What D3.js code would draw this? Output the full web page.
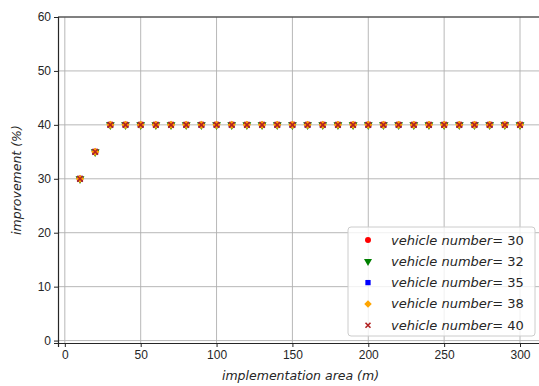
<!DOCTYPE html>
<html lang="en">
<head>
<meta charset="UTF-8">
<title>Improvement vs implementation area</title>
<script src="https://d3js.org/d3.v7.min.js"></script>
<style>
  body { margin: 0; background: #fff; }
  svg { font-family: "DejaVu Sans", sans-serif; }
  .tick text { font-size: 12px; fill: #262626; }
  .axis-label { font-size: 12.5px; font-style: italic; fill: #262626; }
  .legend-text { font-size: 13px; fill: #262626; }
</style>
</head>
<body>
<div id="chart"></div>
<script>
// data
const areas = [10, 20, 30, 40, 50, 60, 70, 80, 90, 100, 110, 120, 130, 140, 150,
               160, 170, 180, 190, 200, 210, 220, 230, 240, 250, 260, 270, 280, 290, 300];
const vehicleNumbers = [30, 32, 35, 38, 40];
const improvement30 = [30, 35, 40, 40, 40, 40, 40, 40, 40, 40, 40, 40, 40, 40, 40, 40, 40, 40, 40, 40, 40, 40, 40, 40, 40, 40, 40, 40, 40, 40];
const improvement32 = [30, 35, 40, 40, 40, 40, 40, 40, 40, 40, 40, 40, 40, 40, 40, 40, 40, 40, 40, 40, 40, 40, 40, 40, 40, 40, 40, 40, 40, 40];
const improvement35 = [30, 35, 40, 40, 40, 40, 40, 40, 40, 40, 40, 40, 40, 40, 40, 40, 40, 40, 40, 40, 40, 40, 40, 40, 40, 40, 40, 40, 40, 40];
const improvement38 = [30, 35, 40, 40, 40, 40, 40, 40, 40, 40, 40, 40, 40, 40, 40, 40, 40, 40, 40, 40, 40, 40, 40, 40, 40, 40, 40, 40, 40, 40];
const improvement40 = [30, 35, 40, 40, 40, 40, 40, 40, 40, 40, 40, 40, 40, 40, 40, 40, 40, 40, 40, 40, 40, 40, 40, 40, 40, 40, 40, 40, 40, 40];
const xTicks = [0, 50, 100, 150, 200, 250, 300];
const yTicks = [0, 10, 20, 30, 40, 50, 60];

const series = [
  { n: vehicleNumbers[0], values: improvement30, color: "red",     shape: d3.symbolCircle },
  { n: vehicleNumbers[1], values: improvement32, color: "green",   shape: d3.symbolTriangle, rot: 180 },
  { n: vehicleNumbers[2], values: improvement35, color: "blue",    shape: d3.symbolSquare },
  { n: vehicleNumbers[3], values: improvement38, color: "orange",  shape: d3.symbolSquare, rot: 45 },
  { n: vehicleNumbers[4], values: improvement40, color: "#b22222", shape: d3.symbolTimes }
];

const W = 539, H = 386;
const margin = { top: 17, right: -3, bottom: 43, left: 58 };

const svg = d3.select("#chart").append("svg")
  .attr("width", W).attr("height", H);

const x = d3.scaleLinear().domain([-4.5, 314.5]).range([margin.left, W - margin.right]);
const y = d3.scaleLinear().domain([-0.45, 60]).range([H - margin.bottom, margin.top]);

// grid
svg.append("g").selectAll("line").data(xTicks).join("line")
  .attr("x1", d => x(d)).attr("x2", d => x(d))
  .attr("y1", y(-0.45)).attr("y2", y(60))
  .attr("stroke", "#b0b0b0").attr("stroke-width", 0.9);
svg.append("g").selectAll("line").data(yTicks).join("line")
  .attr("x1", x(-4.5)).attr("x2", x(314.5))
  .attr("y1", d => y(d)).attr("y2", d => y(d))
  .attr("stroke", "#b0b0b0").attr("stroke-width", 0.9);

// axes
const xAxis = svg.append("g")
  .attr("transform", `translate(0,${y(-0.45)})`)
  .call(d3.axisBottom(x).tickValues(xTicks).tickSize(4).tickPadding(3));
const yAxis = svg.append("g")
  .attr("transform", `translate(${x(-4.5)},0)`)
  .call(d3.axisLeft(y).tickValues(yTicks).tickSize(4).tickPadding(3));
[xAxis, yAxis].forEach(a => {
  a.select(".domain").attr("stroke", "#262626").attr("stroke-width", 1.2);
  a.selectAll(".tick line").attr("stroke", "#262626");
});
// top spine
svg.append("line")
  .attr("x1", x(-4.5)).attr("x2", W)
  .attr("y1", y(60)).attr("y2", y(60))
  .attr("stroke", "#262626").attr("stroke-width", 1.2);

// markers
function drawMarker(g, s, size) {
  const p = g.append("path")
    .attr("d", d3.symbol().type(s.shape).size(size)());
  if (s.shape === d3.symbolTimes) {
    p.attr("fill", "none").attr("stroke", s.color).attr("stroke-width", 1.6);
  } else {
    p.attr("fill", s.color);
  }
  if (s.rot) p.attr("transform", `rotate(${s.rot})`);
  return p;
}

series.forEach(s => {
  const g = svg.append("g");
  areas.forEach((a, i) => {
    const m = g.append("g").attr("transform", `translate(${x(a)},${y(s.values[i])})`);
    drawMarker(m, s, s.shape === d3.symbolTimes ? 22 : 34);
  });
});

// axis labels
svg.append("text").attr("class", "axis-label")
  .attr("x", (x(-4.5) + W) / 2 + 2).attr("y", 380)
  .attr("text-anchor", "middle")
  .text("implementation area (m)");
svg.append("text").attr("class", "axis-label")
  .attr("transform", `translate(21,${(y(60) + y(-0.45)) / 2}) rotate(-90)`)
  .attr("text-anchor", "middle")
  .text("improvement (%)");

// legend
const lg = svg.append("g").attr("transform", "translate(348,227)");
lg.append("rect")
  .attr("width", 187).attr("height", 109).attr("rx", 3)
  .attr("fill", "white").attr("fill-opacity", 0.8)
  .attr("stroke", "#cccccc");
series.forEach((s, i) => {
  const row = lg.append("g").attr("transform", `translate(0,${13 + i * 21.3})`);
  const m = row.append("g").attr("transform", "translate(20,0)");
  drawMarker(m, s, s.shape === d3.symbolTimes ? 18 : 28);
  const t = row.append("text").attr("class", "legend-text")
    .attr("x", 43).attr("dy", "0.35em");
  t.append("tspan").attr("font-style", "italic").text("vehicle number");
  t.append("tspan").text("= " + s.n);
});
</script>
</body>
</html>
